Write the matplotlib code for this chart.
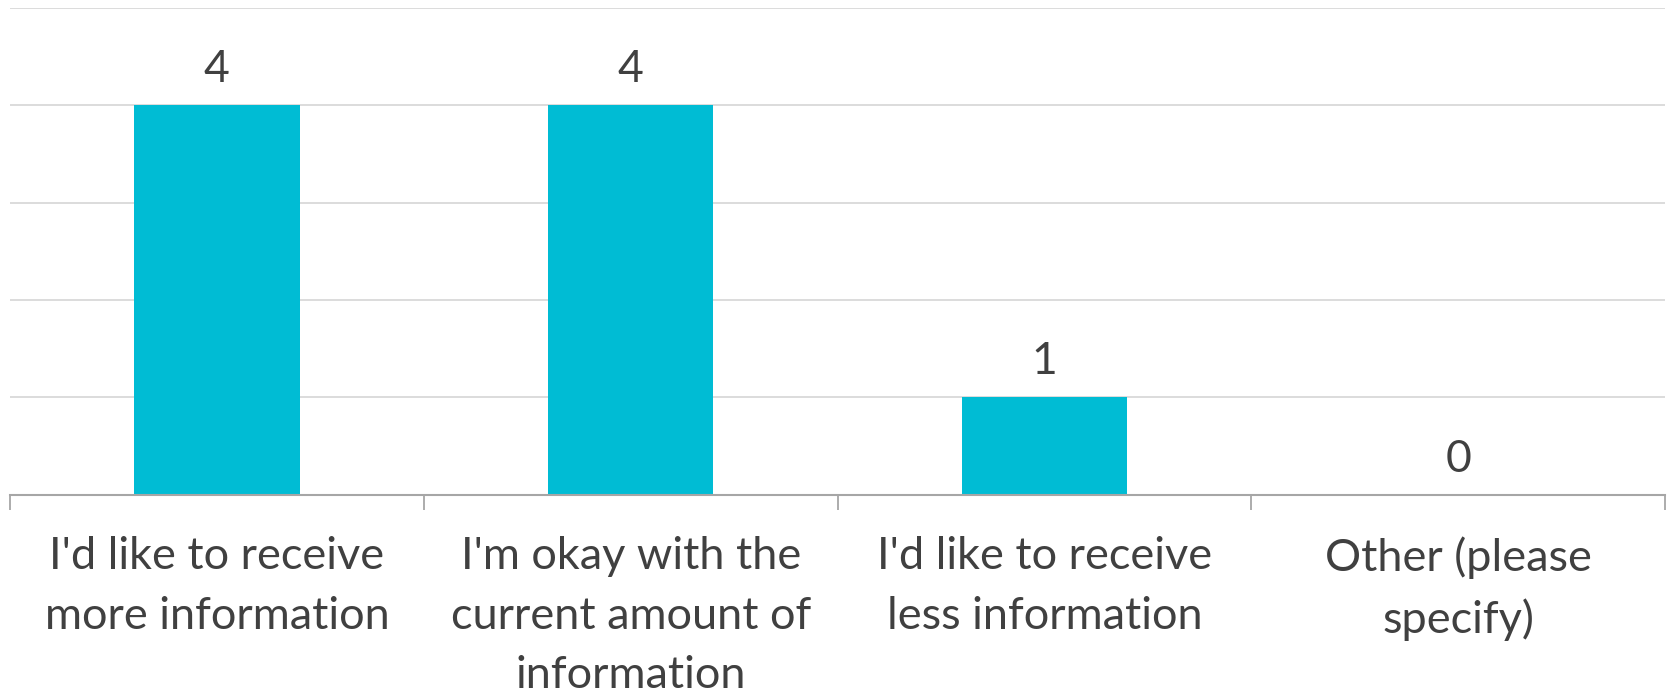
import matplotlib
matplotlib.use("Agg")
import matplotlib.pyplot as plt
import numpy as np

categories = [
    "I'd like to receive\nmore information",
    "I'm okay with the\ncurrent amount of\ninformation",
    "I'd like to receive\nless information",
    "Other (please\nspecify)",
]
values = [4, 4, 1, 0]

bar_color = "#00BCD4"
text_color = "#404040"
grid_color = "#D9D9D9"
axis_color = "#A6A6A6"

plt.rcParams["font.family"] = ["Lato", "DejaVu Sans"]

fig = plt.figure(figsize=(16.67, 6.91), dpi=100)
ax = fig.add_axes([10 / 1667, 196.3 / 691, 1655 / 1667, 486.9 / 691])

x = np.arange(len(categories))
bars = ax.bar(x, values, width=0.40, color=bar_color, zorder=3)

ax.set_xlim(-0.5, len(categories) - 0.5)
ax.set_ylim(0, 5)
ax.set_yticks(np.arange(0, 6, 1))
ax.yaxis.grid(True, color=grid_color, linewidth=1.3, zorder=0)
ax.tick_params(axis="y", left=False, labelleft=False)

for side in ("left", "right", "top"):
    ax.spines[side].set_visible(False)
ax.spines["bottom"].set_color(axis_color)
ax.spines["bottom"].set_linewidth(1.5)
ax.spines["bottom"].set_zorder(4)

# category boundaries carry the tick marks, centres carry the labels
ax.set_xticks(np.arange(-0.5, len(categories), 1.0))
ax.set_xticklabels([])
ax.tick_params(axis="x", which="major", length=11, width=1.3, color=axis_color)
ax.set_xticks(x, minor=True)
ax.set_xticklabels(categories, minor=True, fontsize=32.5, color=text_color,
                   linespacing=1.55)
ax.tick_params(axis="x", which="minor", length=0, pad=30)

for rect, v in zip(bars, values):
    ax.annotate(str(v), (rect.get_x() + rect.get_width() / 2, v),
                xytext=(0, 16.5), textcoords="offset points",
                ha="center", va="baseline", fontsize=32, color=text_color)

fig.savefig("out.png", dpi=100, facecolor="white")
